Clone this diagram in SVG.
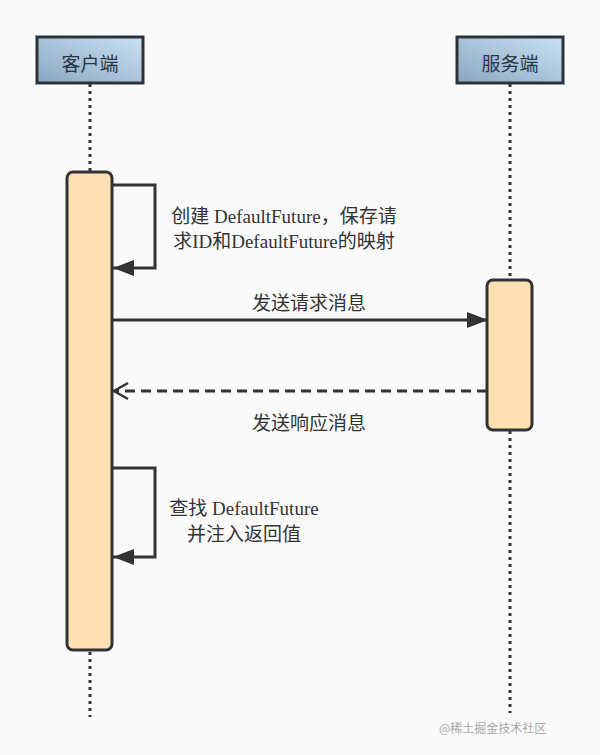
<svg xmlns="http://www.w3.org/2000/svg" width="600" height="755" viewBox="0 0 600 755">
<defs>
<linearGradient id="hdr" x1="0" y1="1" x2="1" y2="0">
<stop offset="0" stop-color="#8aa6c0"/>
<stop offset="1" stop-color="#c9e1f4"/>
</linearGradient>
<marker id="fill" markerWidth="22" markerHeight="16" refX="21" refY="8" orient="auto" markerUnits="userSpaceOnUse">
<path d="M0,0 L21,8 L0,16 Z" fill="#333"/>
</marker>
<marker id="open" markerWidth="18" markerHeight="20" refX="15" refY="10" orient="auto" markerUnits="userSpaceOnUse">
<path d="M1,2 L15,10 L1,18" fill="none" stroke="#333" stroke-width="2.5"/>
</marker>
</defs>
<style>
.hdr{fill:url(#hdr);stroke:#2e3236;stroke-width:3}
.htxt{font-family:"Liberation Serif","Noto Sans CJK SC",serif;font-size:19px;fill:#2a3542;text-anchor:middle}
.life{stroke:#333;stroke-width:3;stroke-dasharray:3 4;fill:none}
.act{fill:#ffe0b3;stroke:#333;stroke-width:3}
.msg{stroke:#333;stroke-width:3;fill:none}
.lbl{font-family:"Liberation Serif","Noto Sans CJK SC",serif;font-size:19px;fill:#333;text-anchor:middle}
.wm{font-family:"Noto Sans CJK SC","Liberation Sans",sans-serif;font-size:12px;fill:#a8a8a8}
</style>
<rect width="600" height="755" fill="#fafafa"/>
<g id="lifelines">
<line class="life" x1="90" y1="84" x2="90" y2="172"/>
<line class="life" x1="90" y1="652" x2="90" y2="717"/>
<line class="life" x1="510" y1="84" x2="510" y2="280"/>
<line class="life" x1="510" y1="431" x2="510" y2="713"/>
</g>
<g id="client">
<rect class="hdr" x="37" y="37" width="106" height="46"/>
<text class="htxt" x="90" y="71">客户端</text>
</g>
<g id="server">
<rect class="hdr" x="457" y="37" width="106" height="46"/>
<text class="htxt" x="510" y="71">服务端</text>
</g>
<g id="client-activation">
<rect class="act" x="67" y="172" width="45" height="478" rx="6"/>
</g>
<g id="server-activation">
<rect class="act" x="487" y="280" width="45" height="150" rx="6"/>
</g>
<g id="connectors">
<path class="msg" d="M112,185 H155 V268 H113" marker-end="url(#fill)"/>
<line class="msg" x1="112" y1="320" x2="488" y2="320" marker-end="url(#fill)"/>
<line class="msg" x1="487" y1="391" x2="114" y2="391" stroke-dasharray="10 6" marker-end="url(#open)"/>
<path class="msg" d="M112,468 H155 V557 H113" marker-end="url(#fill)"/>
</g>
<g id="labels">
<text class="lbl" x="284" y="223">创建 DefaultFuture，保存请</text>
<text class="lbl" x="284" y="248">求ID和DefaultFuture的映射</text>
<text class="lbl" x="309" y="310">发送请求消息</text>
<text class="lbl" x="309" y="430">发送响应消息</text>
<text class="lbl" x="244" y="515">查找 DefaultFuture</text>
<text class="lbl" x="244" y="541">并注入返回值</text>
</g>
<text class="wm" x="439" y="733">@稀土掘金技术社区</text>
</svg>
